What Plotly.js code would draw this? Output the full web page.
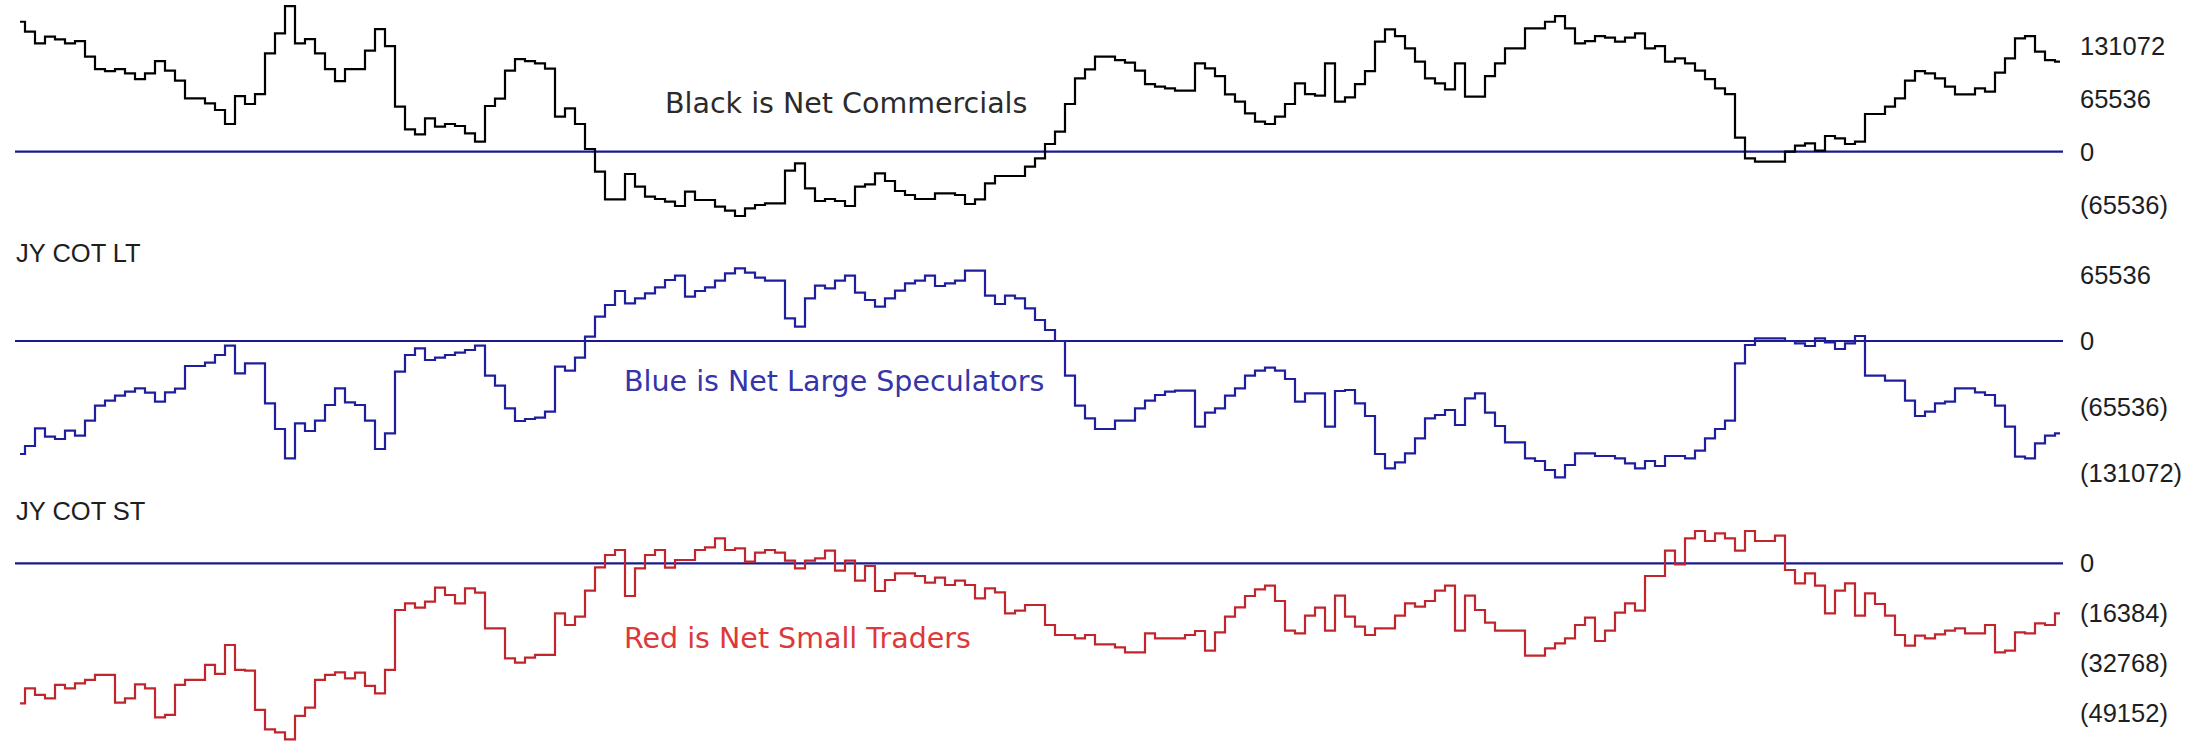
<!DOCTYPE html>
<html>
<head>
<meta charset="utf-8">
<script src="https://cdn.plot.ly/plotly-3.0.1.min.js"></script>
<style>
html,body{margin:0;padding:0;background:#ffffff;}
#chart{width:2188px;height:742px;}
</style>
</head>
<body>
<div id="chart"></div>
<script>
// ---- Data: weekly net positions (contracts) ----
const netCommercials = [
160680,148320,133900,142140,138844,133900,136784,117420,102176,99704,
102176,96820,89816,96820,112064,100116,87756,65920,65920,59740,
51500,34196,68804,58916,71276,121540,146260,180044,133900,139256,
121540,102176,87344,102176,102176,124836,151616,130604,55620,27604,
21424,41200,30900,34196,31724,22660,12360,56444,65508,100116,
114536,112064,109180,102588,43260,53560,34196,3296,-24720,-58916,
-58916,-27604,-43260,-55620,-58504,-61800,-67156,-49440,-59740,-59740,
-67980,-72924,-79516,-70040,-65920,-63860,-63860,-23484,-14420,-45320,
-60976,-58504,-60976,-67156,-43260,-40376,-26780,-36256,-48616,-53560,
-58504,-58504,-51500,-51500,-53560,-64684,-58916,-39140,-30076,-30076,
-30076,-18540,-8240,9476,24720,58916,90640,101764,117420,117420,
113300,110004,100116,83636,80340,78280,75396,75396,109180,103000,
93524,70864,61800,47380,37080,34196,43260,58916,84460,71276,
69216,109180,61800,67156,83636,99704,135960,151204,142964,127720,
111240,90640,84460,77044,109180,67980,67980,93524,109180,127720,
127720,152440,152440,160680,167684,152440,133900,136784,142964,140904,
135960,140904,146260,127720,130604,111240,115360,109180,100116,89816,
78280,71276,17304,-8240,-12360,-12360,-12360,0,7416,10300,
1236,19364,16480,9476,12360,46556,46556,55620,65920,87756,
99704,96820,90640,80340,70864,70864,78280,74160,97644,115360,
140080,142964,123600,113300,111240
];
const netLargeSpecs = [
-112209,-104265,-86722,-94997,-97314,-89039,-94004,-79109,-64214,-59249,
-54284,-50312,-47002,-51305,-60242,-50974,-47333,-24825,-24825,-21515,
-13902,-4634,-32107,-22177,-22177,-61897,-87384,-116512,-81757,-89370,
-79109,-63552,-47002,-60904,-63552,-79109,-107244,-91687,-30452,-13902,
-7282,-18867,-16550,-13902,-11585,-8937,-4634,-34424,-44354,-66862,
-79440,-77454,-76130,-70172,-25487,-29459,-16550,4303,24163,35748,
49650,37403,42368,47333,53291,60573,64876,44023,49650,53291,
59911,67193,72158,67855,62890,59911,59911,22508,14233,42368,
54946,52298,59911,64876,47995,40713,34093,42368,49981,57263,
59911,64876,54615,57263,59911,69841,69841,45016,36741,45016,
42368,32438,20853,10923,0,-34424,-64214,-76792,-87384,-87384,
-79109,-79109,-66862,-59249,-53622,-50312,-49319,-49319,-85067,-71165,
-66862,-54284,-47002,-34424,-29459,-26480,-29459,-37734,-60242,-51967,
-51967,-85067,-49650,-48657,-61897,-74475,-112209,-126442,-120484,-111547,
-96652,-76792,-73482,-68517,-83412,-56932,-51967,-71165,-84405,-100624,
-100624,-116512,-119160,-128097,-135379,-123132,-111547,-111547,-114195,-114195,
-116512,-121477,-126442,-119160,-124125,-114195,-114195,-116512,-108899,-96652,
-87384,-79109,-22177,-3972,2648,2648,2648,0,-2317,-4965,
2648,-1324,-7944,-2317,4965,-34424,-34424,-39389,-39389,-59249,
-74475,-70172,-61897,-60242,-47002,-47002,-50974,-53622,-64214,-85067,
-114857,-116512,-101617,-94004,-91687
];
const netSmallTraders = [
-45864,-40950,-43134,-44226,-39858,-40950,-39312,-38220,-36582,-36582,
-45646,-44226,-39640,-40950,-50450,-49686,-39858,-38220,-38220,-33306,
-36254,-26754,-34944,-35162,-48048,-54382,-55364,-57658,-50014,-47284,
-38220,-36582,-35708,-37674,-35818,-40186,-42588,-34944,-15288,-13104,
-14524,-12558,-7972,-10374,-13104,-8190,-9610,-21294,-21294,-31122,
-32542,-30904,-30030,-30030,-16380,-20202,-17472,-8954,-1310,2730,
4368,-10702,-1638,2730,4368,-1420,1092,1092,4368,5242,
8190,4368,4914,546,3494,4368,3494,874,-1638,874,
1638,4150,-2402,874,-5678,-874,-9064,-5460,-3276,-3276,
-4150,-6334,-4696,-7098,-5678,-7098,-11466,-8190,-9500,-16380,
-15506,-13650,-13650,-20202,-23478,-23478,-24570,-23478,-26536,-26536,
-27518,-29156,-29156,-22932,-24570,-24570,-24570,-23478,-22168,-28610,
-22604,-17472,-14414,-10702,-8518,-7316,-12340,-22058,-22932,-17144,
-14524,-22058,-10592,-17472,-20748,-23478,-21294,-21294,-17144,-13104,
-14196,-12340,-8954,-7316,-22058,-10592,-15288,-19438,-22058,-22058,
-22058,-30248,-30248,-27846,-26208,-24570,-20202,-17800,-25444,-22058,
-16162,-13104,-15506,-4150,-4150,4150,-328,8190,10592,7316,
9828,8190,4150,10592,7316,7316,9064,-2184,-6552,-3276,
-7316,-16380,-8954,-6552,-17144,-9828,-13322,-17144,-23478,-26972,
-23696,-24570,-23260,-22058,-21294,-22932,-22932,-20202,-29156,-28610,
-22604,-22932,-19656,-20202,-16380
];

const topTicks = [131072, 65536, 0, -65536];
const topTickText = ['131072', '65536', '0', '(65536)'];
const midTicks = [65536, 0, -65536, -131072];
const midTickText = ['65536', '0', '(65536)', '(131072)'];
const botTicks = [0, -16384, -32768, -49152];
const botTickText = ['0', '(16384)', '(32768)', '(49152)'];

const panelTitles = ['JY COT LT', 'JY COT ST'];
const seriesNotes = ['Black is Net Commercials', 'Blue is Net Large Speculators', 'Red is Net Small Traders'];

// ---- Layout geometry ----
const W = 2188, H = 742, RIGHT = 118;
const PW = W - RIGHT;
const weeks = netCommercials.map((_, i) => i);

// axis range from pixel row of zero and units per pixel
function rangeFor(zeroPx, unitsPerPx) {
  return [(zeroPx - H) * unitsPerPx, zeroPx * unitsPerPx];
}
const labelFamily = 'Liberation Sans, Arial, sans-serif';
const tickFont = {family: labelFamily, size: 25.5, color: '#1e1e1e'};

function yax(extra) {
  return Object.assign({
    side: 'right', showgrid: false, zeroline: false, showline: false,
    ticks: '', tickfont: tickFont, fixedrange: true, ticklabelstandoff: 9
  }, extra);
}

function stepTrace(y, axis, color) {
  return {x: weeks, y: y, yaxis: axis, type: 'scatter', mode: 'lines',
    line: {shape: 'hvh', color: color, width: 2.2}, hoverinfo: 'skip', showlegend: false};
}

const traces = [
  stepTrace(netCommercials, 'y', '#000000'),
  stepTrace(netLargeSpecs, 'y2', '#1f1f9e'),
  stepTrace(netSmallTraders, 'y3', '#c0262c')
];

function zeroLine(yref) {
  return {type: 'line', xref: 'x', yref: yref, x0: -0.5, x1: weeks.length - 0.7, y0: 0, y1: 0,
    line: {color: '#1a1a8c', width: 2.2}, layer: 'below'};
}

function note(text, px, py, color, font) {
  return {text: text, xref: 'paper', yref: 'paper', x: px / PW, y: 1 - py / H,
    xanchor: 'left', yanchor: 'middle', showarrow: false, font: Object.assign({color: color}, font)};
}
const noteFont = {family: 'DejaVu Sans, Verdana, sans-serif', size: 28.5};
const labelFont = {family: labelFamily, size: 25.5};

const layout = {
  width: W, height: H,
  margin: {l: 0, r: RIGHT, t: 0, b: 0, pad: 0},
  paper_bgcolor: '#ffffff', plot_bgcolor: '#ffffff',
  showlegend: false,
  xaxis: {range: [-2, PW / 10 - 2], visible: false, fixedrange: true},
  yaxis: yax({range: rangeFor(151.67, 65536 / 53), tickvals: topTicks, ticktext: topTickText}),
  yaxis2: yax({range: rangeFor(341, 65536 / 66), tickvals: midTicks, ticktext: midTickText, overlaying: 'y'}),
  yaxis3: yax({range: rangeFor(563.33, 16384 / 50), tickvals: botTicks, ticktext: botTickText, overlaying: 'y'}),
  shapes: [zeroLine('y'), zeroLine('y2'), zeroLine('y3')],
  annotations: [
    note(panelTitles[0], 14, 253, '#1e1e1e', labelFont),
    note(panelTitles[1], 14, 511, '#1e1e1e', labelFont),
    note(seriesNotes[0], 663, 103, '#2b2b2b', noteFont),
    note(seriesNotes[1], 622, 381, '#3535a8', noteFont),
    note(seriesNotes[2], 622, 638, '#dc3a3a', noteFont)
  ]
};

Plotly.newPlot('chart', traces, layout, {displayModeBar: false, staticPlot: true});
</script>
</body>
</html>
